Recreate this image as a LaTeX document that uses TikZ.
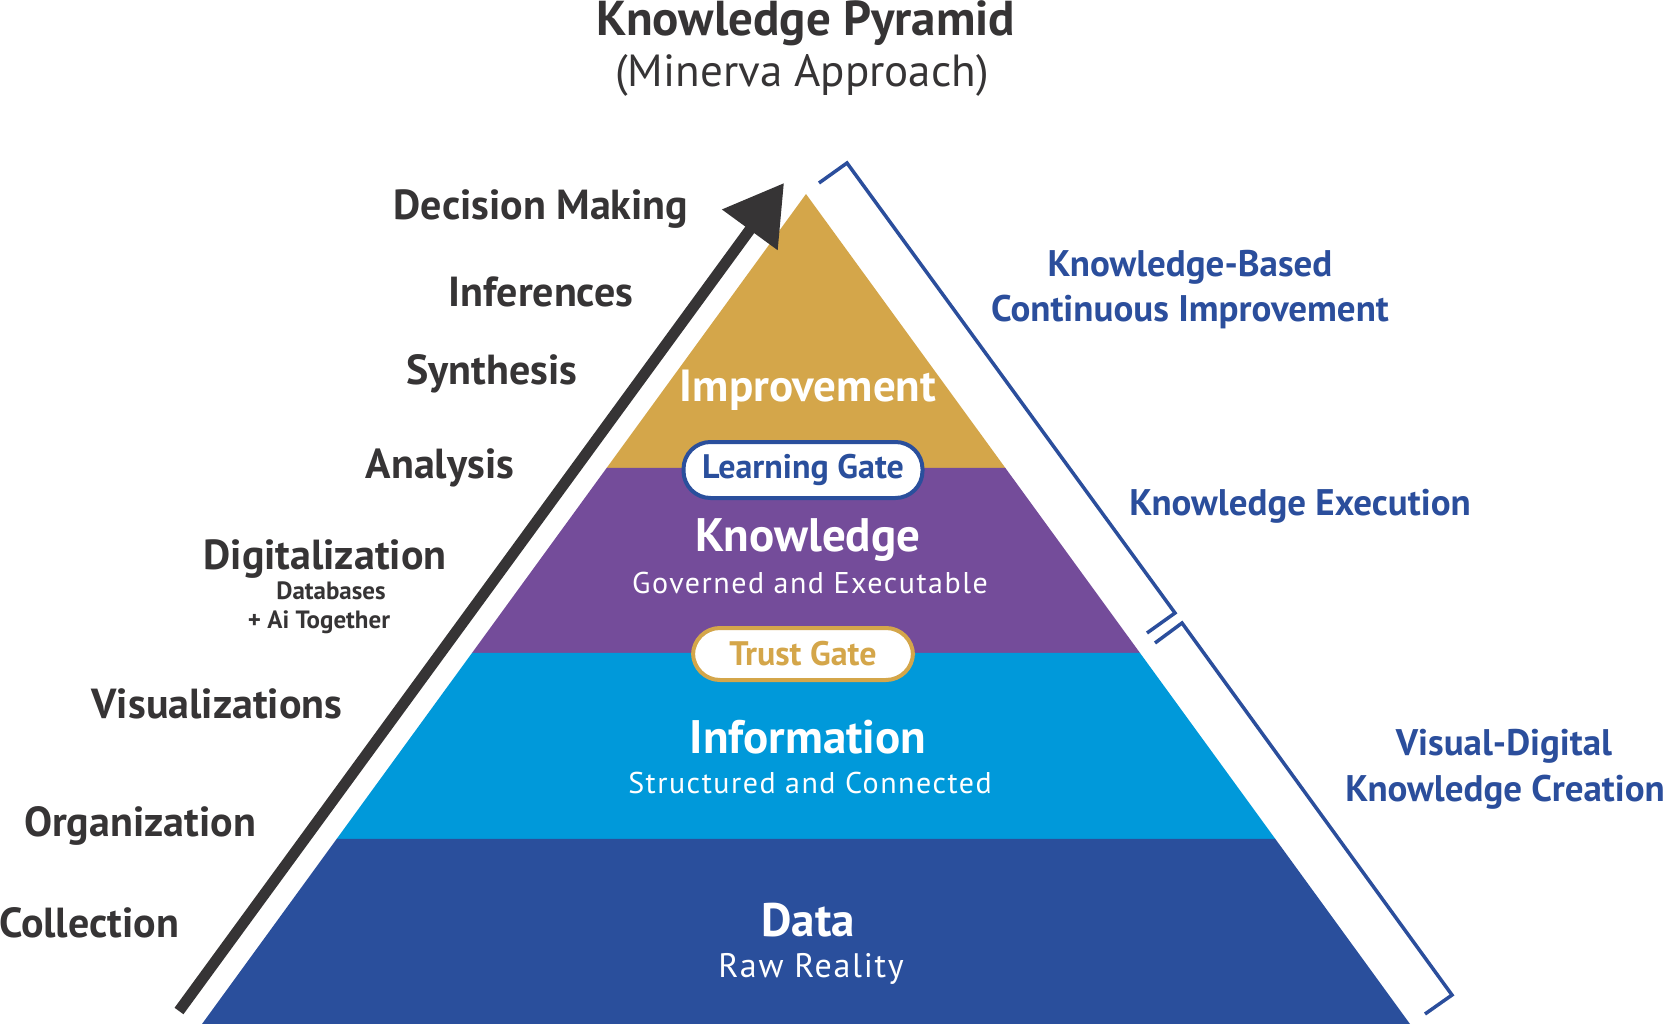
\documentclass[tikz,border=0pt]{standalone}
\usepackage{fontspec}
\setmainfont{PT Sans}
\usepackage{xcolor}
\usepackage{tikz}
\usetikzlibrary{arrows.meta, calc}
\definecolor{pyrgold}{HTML}{D4A64A}
\definecolor{pyrpurple}{HTML}{744C9A}
\definecolor{pyrcyan}{HTML}{0099DA}
\definecolor{pyrblue}{HTML}{2A4F9C}
\definecolor{labelgray}{HTML}{363435}
\definecolor{labelblue}{HTML}{2B4E9C}
\tikzset{
    heading/.style={anchor=base, inner sep=0pt, text=labelgray, font=\fontsize{49}{52}\selectfont\bfseries},
    stage/.style={anchor=base, inner sep=0pt, text=labelgray, font=\fontsize{42}{45}\selectfont\bfseries},
    stagenote/.style={anchor=base, inner sep=0pt, text=labelgray, font=\fontsize{25}{27}\selectfont\bfseries},
    phase/.style={anchor=base, inner sep=0pt, text=labelblue, font=\fontsize{37}{40}\selectfont\bfseries},
    layername/.style={anchor=base, inner sep=0pt, text=white, font=\fontsize{47}{50}\selectfont\bfseries},
    layernote/.style={anchor=base, inner sep=0pt, text=white, font=\fontsize{30}{32}\selectfont\addfontfeature{LetterSpace=5}},
    gate/.style={rectangle, rounded corners=27pt, draw, line width=4pt, fill=white, minimum width=239pt, minimum height=56pt, inner sep=0pt, font=\fontsize{34}{36}\selectfont\bfseries},
    bracket/.style={draw=labelblue, line width=3.5pt, line join=miter},
    climb/.style={-{Triangle[length=58pt, width=66pt]}, line width=11pt, draw=labelgray}
}

\begin{document}
\begin{tikzpicture}[x=1pt, y=-1pt]
    \useasboundingbox (0,0) rectangle (1665,1024);

    % pyramid layers
    \coordinate (apex) at (806,194);
    \coordinate (baseL) at (202,1024);
    \coordinate (baseR) at (1410,1024);
    \coordinate (impL) at ($(apex)!0.3301!(baseL)$);
    \coordinate (impR) at ($(apex)!0.3301!(baseR)$);
    \coordinate (knoL) at ($(apex)!0.5530!(baseL)$);
    \coordinate (knoR) at ($(apex)!0.5530!(baseR)$);
    \coordinate (infL) at ($(apex)!0.7771!(baseL)$);
    \coordinate (infR) at ($(apex)!0.7771!(baseR)$);
    \fill[pyrgold] (apex) -- (impL) -- (impR) -- cycle;
    \fill[pyrpurple] (impL) -- (knoL) -- (knoR) -- (impR) -- cycle;
    \fill[pyrcyan] (knoL) -- (infL) -- (infR) -- (knoR) -- cycle;
    \fill[pyrblue] (infL) -- (baseL) -- (baseR) -- (infR) -- cycle;

    \node (improve) [layername, font=\fontsize{45}{48}\selectfont\bfseries] at (808,401) {Improvement};
    \node (know) [layername] at (808,551) {Knowledge};
    \node (governed) [layernote] at (810,593) {Governed and Executable};
    \node (info) [layername] at (808,753) {Information};
    \node (structured) [layernote] at (810,793) {Structured and Connected};
    \node (data) [layername] at (808,936) {Data};
    \node (raw) [layernote, font=\fontsize{34}{36}\selectfont\addfontfeature{LetterSpace=5}] at (811,977) {Raw Reality};

    \node (learngate) [gate, draw=pyrblue, text=pyrblue] at (803,470) {Learning Gate};
    \node (trustgate) [gate, draw=pyrgold, text=pyrgold, minimum width=220pt, minimum height=52pt] at (803,654) {Trust Gate};

    % title
    \node (title) [heading] at (806,36) {Knowledge Pyramid};
    \node (subtitle) [heading, font=\fontsize{45}{48}\selectfont] at (802,87) {(Minerva Approach)};

    % climbing arrow and stages
    \coordinate (climbstart) at (179,1011);
    \coordinate (climbtip) at (784,183);
    \draw[climb] (climbstart) -- (climbtip);

    \node (decision) [stage] at (541,220) {Decision Making};
    \node (infer) [stage] at (541,307) {Inferences};
    \node (synth) [stage] at (492,384) {Synthesis};
    \node (analysis) [stage] at (440,478) {Analysis};
    \node (digital) [stage] at (325,569) {Digitalization};
    \node (databases) [stagenote] at (331,599) {Databases};
    \node (aitogether) [stagenote] at (319,628) {+ Ai Together};
    \node (visual) [stage] at (217,718) {Visualizations};
    \node (organize) [stage] at (140,836) {Organization};
    \node (collect) [stage] at (89,937) {Collection};

    % brackets and phases
    \draw[bracket] (819,183) -- (847,163) -- (1175,613) -- (1147,633);
    \draw[bracket] (1155,643) -- (1182,623) -- (1452,995) -- (1425,1014);

    \node (kbased) [phase] at (1190,277) {Knowledge-Based};
    \node (contimp) [phase] at (1190,322) {Continuous Improvement};
    \node (kexec) [phase] at (1300,515) {Knowledge Execution};
    \node (visdig) [phase] at (1504,755) {Visual-Digital};
    \node (kcreate) [phase] at (1505,801) {Knowledge Creation};
\end{tikzpicture}
\end{document}
